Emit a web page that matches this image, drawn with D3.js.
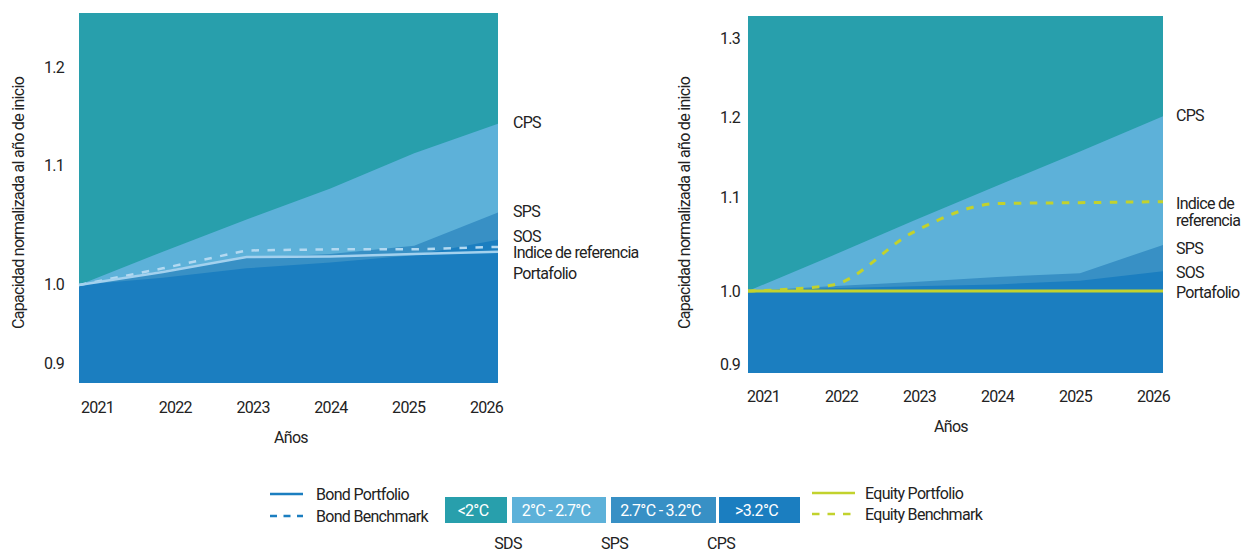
<!DOCTYPE html>
<html>
<head>
<meta charset="utf-8">
<script src="https://cdn.jsdelivr.net/npm/d3@7"></script>
<style>
  html, body { margin: 0; padding: 0; background: #ffffff; }
  svg text { font-family: Roboto, "Noto Sans", sans-serif; font-size: 16px; letter-spacing: -0.7px; fill: #222; }
</style>
</head>
<body>
<svg id="chart" width="1242" height="553"></svg>
<script>
// ---------------- DATA ----------------
const years = [2021, 2022, 2023, 2024, 2025, 2026];

// Bond chart (left): upper boundary of each warming band
const bondCPS = [1.000, 1.028, 1.055, 1.081, 1.113, 1.143];   // 2°C-2.7°C band top
const bondSPS = [1.000, 1.012, 1.023, 1.026, 1.033, 1.061];   // 2.7°C-3.2°C band top
const bondSOS = [1.000, 1.006, 1.014, 1.019, 1.025, 1.038];   // >3.2°C band top
const bondPortfolio = [1.000, 1.011, 1.0235, 1.024, 1.026, 1.028];
const bondBenchmark = [1.000, 1.014, 1.029, 1.030, 1.030, 1.032];
const bondTicks = [0.9, 1.0, 1.1, 1.2];

// Equity chart (right)
const eqCPS = [1.000, 1.037, 1.075, 1.114, 1.157, 1.201];
const eqSPS = [1.000, 1.005, 1.0095, 1.015, 1.019, 1.049];
const eqSOS = [1.000, 1.003, 1.005, 1.007, 1.011, 1.021];
const eqPortfolio = [1.000, 1.000, 1.000, 1.000, 1.000, 1.000];
const eqBenchmark = [1.000, 1.006, 1.063, 1.093, 1.094, 1.095];
const eqTicks = [0.9, 1.0, 1.1, 1.2, 1.3];

const bandLabels = ["<2°C", "2°C - 2.7°C", "2.7°C - 3.2°C", ">3.2°C"];
const scenarioLabels = ["SDS", "SPS", "CPS"];

// ---------------- STYLE ----------------
const C = { teal: "#289fac", light: "#5db1d9", mid: "#3890c5", dark: "#1b7ec0",
            bondLine: "#a3d1ee", bondDash: "#b3d9f1", eq: "#c2d22d", legBond: "#1b7ec0" };

const svg = d3.select("#chart");

function panel(cfg) {
  const g = svg.append("g");
  const x = d3.scaleLinear().domain([2021, 2026]).range([cfg.left, cfg.right]);
  const y = d3.scaleLinear().domain(cfg.ticks).range(cfg.tickPx);
  const xl = d3.scaleLinear().domain([2021, 2026]).range(cfg.labelRange);

  // background band (<2°C) fills plot
  g.append("path")
    .datum(years)
    .attr("fill", C.teal)
    .attr("d", d3.area().x(d => x(d)).y0(cfg.bottom).y1(cfg.top));

  const bands = [[cfg.cps, C.light], [cfg.sps, C.mid], [cfg.sos, C.dark]];
  bands.forEach(([vals, col]) => {
    g.append("path")
      .datum(years.map((yr, i) => [yr, vals[i]]))
      .attr("fill", col)
      .attr("d", d3.area().x(d => x(d[0])).y0(cfg.bottom).y1(d => y(d[1])));
  });

  // lines
  const line = d3.line().x(d => x(d[0])).y(d => y(d[1]));
  if (cfg.curve) line.curve(cfg.curve);
  g.append("path")
    .datum(years.map((yr, i) => [yr, cfg.bench[i]]))
    .attr("fill", "none").attr("stroke", cfg.benchColor).attr("stroke-width", cfg.lw)
    .attr("stroke-dasharray", "7.5,8.5")
    .attr("d", line);
  g.append("path")
    .datum(years.map((yr, i) => [yr, cfg.port[i]]))
    .attr("fill", "none").attr("stroke", cfg.portColor).attr("stroke-width", cfg.lw)
    .attr("d", d3.line().x(d => x(d[0])).y(d => y(d[1])));

  // axes
  const ya = g.append("g").attr("transform", `translate(${cfg.yLabelX},0)`)
    .call(d3.axisLeft(y).tickValues(cfg.ticks).tickSize(0).tickPadding(0).tickFormat(d3.format(".1f")));
  ya.select(".domain").remove();
  ya.selectAll("text").attr("x", 0).attr("dy", cfg.yDy).attr("text-anchor", "end");
  ya.attr("font-family", null).attr("font-size", null);

  const xa = g.append("g").attr("transform", `translate(0,${cfg.xBase})`)
    .call(d3.axisBottom(xl).tickValues(years).tickSize(0).tickFormat(d3.format("d")));
  xa.select(".domain").remove();
  xa.selectAll("text").attr("y", 0).attr("dy", 0);
  xa.attr("font-family", null).attr("font-size", null);

  g.append("text").attr("x", cfg.xTitleX).attr("y", cfg.xTitleY).attr("text-anchor", "middle").text("Años");
  g.append("text")
    .attr("transform", `translate(${cfg.yTitleX},${cfg.yTitleY}) rotate(-90)`)
    .attr("text-anchor", "middle").text("Capacidad normalizada al año de inicio");

  cfg.labels.forEach(l => {
    const t = g.append("text").attr("x", cfg.labelX).attr("y", l.y);
    l.text.forEach((s, i) => t.append("tspan").attr("x", cfg.labelX).attr("dy", i ? 17 : 0).text(s));
  });
}

panel({
  left: 79, right: 498, top: 13, bottom: 383,
  ticks: bondTicks, tickPx: [364, 285, 166, 68],
  labelRange: [97, 486],
  cps: bondCPS, sps: bondSPS, sos: bondSOS,
  port: bondPortfolio, bench: bondBenchmark,
  portColor: C.bondLine, benchColor: C.bondDash, lw: 2.5,
  yLabelX: 64, yDy: "0.25em", xBase: 413,
  xTitleX: 291, xTitleY: 443, yTitleX: 24, yTitleY: 203,
  labelX: 513,
  labels: [
    { y: 128, text: ["CPS"] }, { y: 217, text: ["SPS"] }, { y: 242, text: ["SOS"] },
    { y: 258, text: ["Indice de referencia"] }, { y: 279, text: ["Portafolio"] }
  ]
});

panel({
  left: 748, right: 1163, top: 16, bottom: 373,
  ticks: eqTicks, tickPx: [364, 291, 197, 117, 38],
  labelRange: [763, 1153],
  cps: eqCPS, sps: eqSPS, sos: eqSOS,
  port: eqPortfolio, bench: eqBenchmark, curve: d3.curveMonotoneX,
  portColor: C.eq, benchColor: C.eq, lw: 3,
  yLabelX: 740, yDy: "0.32em", xBase: 402,
  xTitleX: 951, xTitleY: 432, yTitleX: 690, yTitleY: 203,
  labelX: 1176,
  labels: [
    { y: 121, text: ["CPS"] }, { y: 209, text: ["Indice de", "referencia"] },
    { y: 254, text: ["SPS"] }, { y: 278, text: ["SOS"] }, { y: 298, text: ["Portafolio"] }
  ]
});

// ---------------- LEGEND ----------------
const leg = svg.append("g");
// bond lines
leg.append("line").attr("x1", 270).attr("x2", 303).attr("y1", 494).attr("y2", 494)
  .attr("stroke", C.legBond).attr("stroke-width", 2.5);
leg.append("line").attr("x1", 270).attr("x2", 303).attr("y1", 516).attr("y2", 516)
  .attr("stroke", C.legBond).attr("stroke-width", 2.5).attr("stroke-dasharray", "7,6.5");
leg.append("text").attr("x", 316).attr("y", 500).text("Bond Portfolio");
leg.append("text").attr("x", 316).attr("y", 522).text("Bond Benchmark");
// equity lines
leg.append("line").attr("x1", 812).attr("x2", 855).attr("y1", 493).attr("y2", 493)
  .attr("stroke", C.eq).attr("stroke-width", 2.5);
leg.append("line").attr("x1", 812).attr("x2", 855).attr("y1", 514).attr("y2", 514)
  .attr("stroke", C.eq).attr("stroke-width", 2.5).attr("stroke-dasharray", "7.5,8");
leg.append("text").attr("x", 865).attr("y", 499).text("Equity Portfolio");
leg.append("text").attr("x", 865).attr("y", 520).text("Equity Benchmark");

// colour boxes
const boxX = d3.scaleOrdinal().domain(bandLabels).range([[445, 507], [512, 606], [611, 716], [719, 800]]);
const boxCol = d3.scaleOrdinal().domain(bandLabels).range([C.teal, C.light, C.mid, C.dark]);
bandLabels.forEach(b => {
  const [a, e] = boxX(b);
  leg.append("rect").attr("x", a).attr("y", 497).attr("width", e - a).attr("height", 26).attr("fill", boxCol(b));
  leg.append("text").attr("x", (a + e) / 2 - 3).attr("y", 516).attr("text-anchor", "middle")
    .style("fill", "#ffffff").text(b);
});
const scenX = d3.scalePoint().domain(scenarioLabels).range([508, 721]);
scenarioLabels.forEach(s => {
  leg.append("text").attr("x", scenX(s)).attr("y", 549).attr("text-anchor", "middle").text(s);
});
</script>
</body>
</html>
